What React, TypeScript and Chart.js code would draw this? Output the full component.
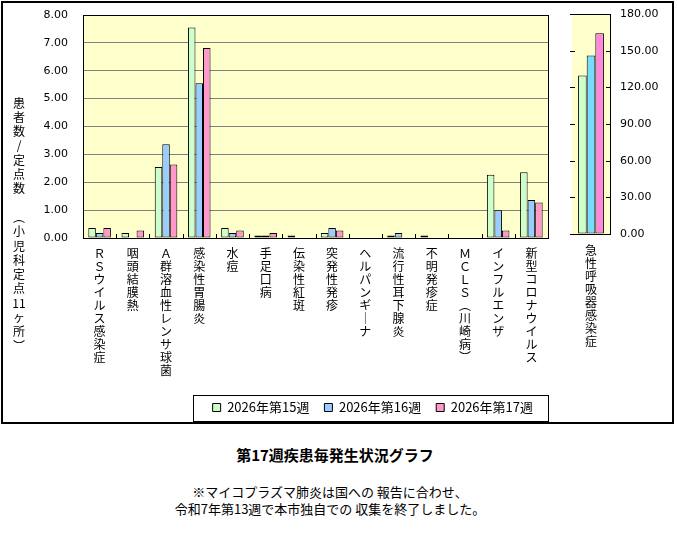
import { useEffect, useRef } from "react"
import { Chart, registerables } from "chart.js"

Chart.register(...registerables)

const JP = "'Noto Sans CJK JP', 'Noto Sans', sans-serif"
const NUM = "'DejaVu Sans', sans-serif"

// vertical labels: one character per line
const categories = [
  ["Ｒ", "Ｓ", "ウ", "イ", "ル", "ス", "感", "染", "症"],
  ["咽", "頭", "結", "膜", "熱"],
  ["Ａ", "群", "溶", "血", "性", "レ", "ン", "サ", "球", "菌"],
  ["感", "染", "性", "胃", "腸", "炎"],
  ["水", "痘"],
  ["手", "足", "口", "病"],
  ["伝", "染", "性", "紅", "斑"],
  ["突", "発", "性", "発", "疹"],
  ["ヘ", "ル", "パ", "ン", "ギ", "｜", "ナ"],
  ["流", "行", "性", "耳", "下", "腺", "炎"],
  ["不", "明", "発", "疹", "症"],
  ["Ｍ", "Ｃ", "Ｌ", "Ｓ", "︵", "川", "崎", "病", "︶"],
  ["イ", "ン", "フ", "ル", "エ", "ン", "ザ"],
  ["新", "型", "コ", "ロ", "ナ", "ウ", "イ", "ル", "ス"],
]
const sideCategories = [["急", "性", "呼", "吸", "器", "感", "染", "症"]]

const seriesNames = ["2026年第15週", "2026年第16週", "2026年第17週"]

const week15 = [0.36, 0.18, 2.55, 7.55, 0.36, 0.09, 0.09, 0.18, 0, 0.09, 0.09, 0, 2.27, 2.36]
const week16 = [0.18, 0, 3.36, 5.55, 0.18, 0.09, 0, 0.36, 0, 0.18, 0, 0, 1.0, 1.36]
const week17 = [0.36, 0.27, 2.64, 6.82, 0.27, 0.18, 0, 0.27, 0, 0, 0, 0, 0.27, 1.27]

const ariWeek15 = [129.73]
const ariWeek16 = [146.09]
const ariWeek17 = [164.18]

const yTitle = ["患", "者", "数", "/", "定", "点", "数", "　", "︵", "小", "児", "科", "定", "点", "11", "ヶ", "所", "︶"]

const plotBg = {
  id: "plotBg",
  beforeDraw(chart: any) {
    const { ctx, chartArea: a } = chart
    ctx.save()
    ctx.fillStyle = "#FFFFCC"
    ctx.fillRect(a.left, a.top, a.width, a.height)
    ctx.restore()
  },
}

// frame, inward ticks, y title and legend box for the main chart
const mainDecor = {
  id: "mainDecor",
  afterDraw(chart: any) {
    const { ctx, chartArea: a } = chart
    ctx.save()
    ctx.strokeStyle = "#000"
    ctx.lineWidth = 1
    ctx.strokeRect(Math.round(a.left) + 0.5, Math.round(a.top) + 0.5, Math.round(a.width), Math.round(a.height))

    const n = categories.length
    ctx.beginPath()
    for (let i = 1; i < n; i++) {
      const x = Math.round(a.left + (a.width * i) / n) + 0.5
      ctx.moveTo(x, a.bottom)
      ctx.lineTo(x, a.bottom - 4)
    }
    ctx.stroke()

    ctx.fillStyle = "#000"
    ctx.font = `12px ${JP}`
    ctx.textAlign = "center"
    ctx.textBaseline = "middle"
    yTitle.forEach((ch, i) => {
      ctx.fillText(ch, 19, 103 + i * 14.3)
    })

    const legend = chart.legend
    if (legend && legend.legendHitBoxes.length) {
      const boxes = legend.legendHitBoxes
      const left = Math.min(...boxes.map((b: any) => b.left)) - 20
      const cy = boxes[0].top + boxes[0].height / 2
      ctx.strokeRect(Math.round(left) + 0.5, Math.round(cy - 13) + 0.5, Math.round(a.right - left), 26)
    }
    ctx.restore()
  },
}

const sideDecor = {
  id: "sideDecor",
  afterDraw(chart: any) {
    const { ctx, chartArea: a, scales } = chart
    ctx.save()
    ctx.strokeStyle = "#000"
    ctx.lineWidth = 1
    ctx.beginPath()
    ctx.moveTo(a.left, Math.round(a.top) + 0.5)
    ctx.lineTo(a.right, Math.round(a.top) + 0.5)
    ctx.stroke()
    ctx.beginPath()
    scales.y.ticks.forEach((t: any) => {
      const y = Math.round(scales.y.getPixelForValue(t.value)) + 0.5
      ctx.moveTo(a.left - 2, y)
      ctx.lineTo(a.left + 3, y)
      ctx.moveTo(a.right - 4, y)
      ctx.lineTo(a.right, y)
    })
    ctx.stroke()
    ctx.restore()
  },
}

export default function App() {
  const mainRef = useRef<HTMLCanvasElement>(null)
  const sideRef = useRef<HTMLCanvasElement>(null)
  const mainChart = useRef<Chart | null>(null)
  const sideChart = useRef<Chart | null>(null)

  useEffect(() => {
    if (!mainRef.current || !sideRef.current) return

    if (mainChart.current) mainChart.current.destroy()
    if (sideChart.current) sideChart.current.destroy()

    const bar = { borderColor: "#000", borderWidth: 1, borderSkipped: false, categoryPercentage: 0.68, barPercentage: 1 }

    mainChart.current = new Chart(mainRef.current, {
      type: "bar",
      data: {
        labels: categories,
        datasets: [
          { label: seriesNames[0], data: week15, backgroundColor: "#CCFFCC", ...bar },
          { label: seriesNames[1], data: week16, backgroundColor: "#99CCFF", ...bar },
          { label: seriesNames[2], data: week17, backgroundColor: "#FF99CC", ...bar },
        ],
      },
      options: {
        animation: false,
        responsive: true,
        maintainAspectRatio: false,
        layout: { padding: { top: 15, right: 12, left: 0, bottom: 6 } },
        plugins: {
          tooltip: { enabled: false },
          legend: {
            position: "bottom",
            fullSize: false,
            align: "end",
            labels: {
              boxWidth: 8,
              boxHeight: 8,
              padding: 15,
              color: "#000",
              font: { family: JP, size: 13 },
            },
          },
        },
        scales: {
          x: {
            grid: { display: false, drawTicks: false },
            border: { display: true, color: "#000" },
            ticks: {
              autoSkip: false,
              maxRotation: 0,
              minRotation: 0,
              padding: 9,
              color: "#000",
              font: { family: JP, size: 12, lineHeight: "13px" },
            },
            afterFit: (s: any) => {
              s.height = 148
            },
          },
          y: {
            min: 0,
            max: 8,
            ticks: {
              stepSize: 1,
              padding: 3,
              color: "#000",
              font: { family: NUM, size: 11 },
              callback: (v: any) => Number(v).toFixed(2),
            },
            grid: { color: "#808080", drawTicks: true, tickLength: 12, tickColor: "rgba(0,0,0,0)" },
            border: { color: "#000" },
            afterFit: (s: any) => {
              s.width = 83
            },
          },
        },
      } as any,
      plugins: [plotBg, mainDecor],
    })

    sideChart.current = new Chart(sideRef.current, {
      type: "bar",
      data: {
        labels: sideCategories,
        datasets: [
          { label: seriesNames[0], data: ariWeek15, backgroundColor: "#CCFFCC", ...bar },
          { label: seriesNames[1], data: ariWeek16, backgroundColor: "#77DDFF", ...bar },
          { label: seriesNames[2], data: ariWeek17, backgroundColor: "#FF88DD", ...bar },
        ],
      },
      options: {
        animation: false,
        responsive: true,
        maintainAspectRatio: false,
        layout: { padding: { top: 14, right: 0, left: 12, bottom: 0 } },
        plugins: { tooltip: { enabled: false }, legend: { display: false } },
        scales: {
          x: {
            grid: { display: false, drawTicks: false },
            border: { display: true, color: "#000" },
            ticks: {
              autoSkip: false,
              maxRotation: 0,
              minRotation: 0,
              padding: 10,
              color: "#000",
              font: { family: JP, size: 12, lineHeight: "13px" },
            },
            afterFit: (s: any) => {
              s.height = 166
            },
          },
          y: {
            position: "right",
            min: 0,
            max: 180,
            ticks: {
              stepSize: 30,
              padding: 3,
              color: "#000",
              font: { family: NUM, size: 11 },
              callback: (v: any) => Number(v).toFixed(2),
            },
            grid: { drawOnChartArea: false, drawTicks: true, tickLength: 7, tickColor: "rgba(0,0,0,0)" },
            border: { color: "#000" },
            afterFit: (s: any) => {
              s.width = 67
            },
          },
        },
      } as any,
      plugins: [plotBg, sideDecor],
    })

    return () => {
      if (mainChart.current) mainChart.current.destroy()
      if (sideChart.current) sideChart.current.destroy()
      mainChart.current = null
      sideChart.current = null
    }
  }, [])

  return (
    <div style={{ position: "absolute", left: 0, top: 0, width: 677, height: 544, background: "#fff", fontFamily: JP }}>
      <div style={{ position: "absolute", left: 1, top: 1, width: 669, height: 419, border: "2px solid #000" }} />
      <div style={{ position: "absolute", left: 0, top: 0, width: 560, height: 430 }}>
        <canvas ref={mainRef} />
      </div>
      <div style={{ position: "absolute", left: 560, top: 0, width: 117, height: 400 }}>
        <canvas ref={sideRef} />
      </div>
      <div
        style={{
          position: "absolute",
          left: 0,
          top: 446,
          width: 670,
          textAlign: "center",
          fontSize: 15,
          fontWeight: "bold",
          lineHeight: "18px",
          color: "#000",
        }}
      >
        第17週疾患毎発生状況グラフ
      </div>
      <div
        style={{
          position: "absolute",
          left: 0,
          top: 483,
          width: 660,
          textAlign: "center",
          fontSize: 13,
          lineHeight: "17px",
          color: "#000",
        }}
      >
        ※マイコプラズマ肺炎は国への 報告に合わせ、
        <br />
        令和7年第13週で本市独自での 収集を終了しました。
      </div>
    </div>
  )
}
